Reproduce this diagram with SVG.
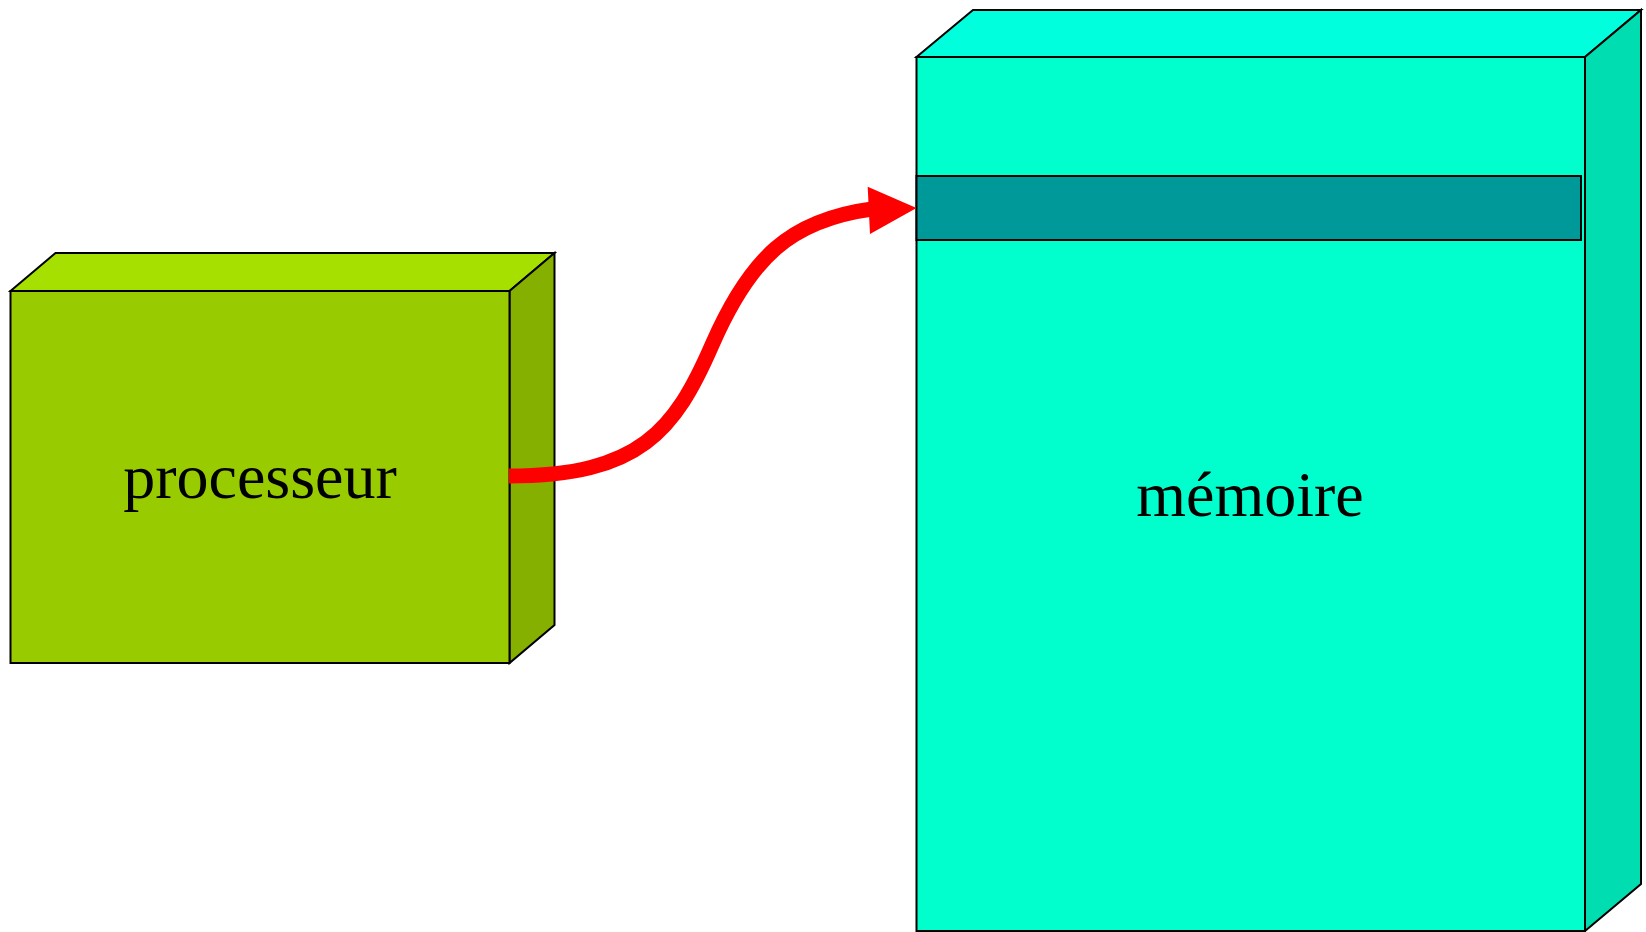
<svg xmlns="http://www.w3.org/2000/svg" width="1646" height="932" viewBox="0 0 1646 932">
<style>
.edge{stroke:#000;stroke-width:2;stroke-linejoin:miter}
.lbl{font-family:"Liberation Serif","Times New Roman",serif;font-size:64px;fill:#000;text-anchor:middle}
</style>
<rect width="1646" height="932" fill="#fff"/>
<g id="processeur">
<polygon class="edge" points="10.5,291 55.5,253 554.5,253 509.5,291" fill="#A6E000"/>
<polygon class="edge" points="509.5,291 554.5,253 554.5,625 509.5,663" fill="#85B000"/>
<rect class="edge" x="10.5" y="291" width="499" height="372" fill="#99CC00"/>
<text class="lbl" x="260" y="498">processeur</text>
</g>
<g id="memoire">
<polygon class="edge" points="916.5,57 973,10 1641,10 1585,57" fill="#00FFDD"/>
<polygon class="edge" points="1585,57 1641,10 1641,884 1585,931" fill="#00DDB0"/>
<rect class="edge" x="916.5" y="57" width="668.5" height="874" fill="#00FFCC"/>
<rect class="edge" x="916.5" y="176" width="664.5" height="64" fill="#009999"/>
<text class="lbl" x="1250" y="516">mémoire</text>
</g>
<g id="connectors">
<path d="M509,476 C640,476 675,430 712,345 C750,258 790,220 872,209" fill="none" stroke="#FF0000" stroke-width="15"/>
<polygon points="867.7,186.7 916.5,208 870,234" fill="#FF0000"/>
</g>
</svg>
